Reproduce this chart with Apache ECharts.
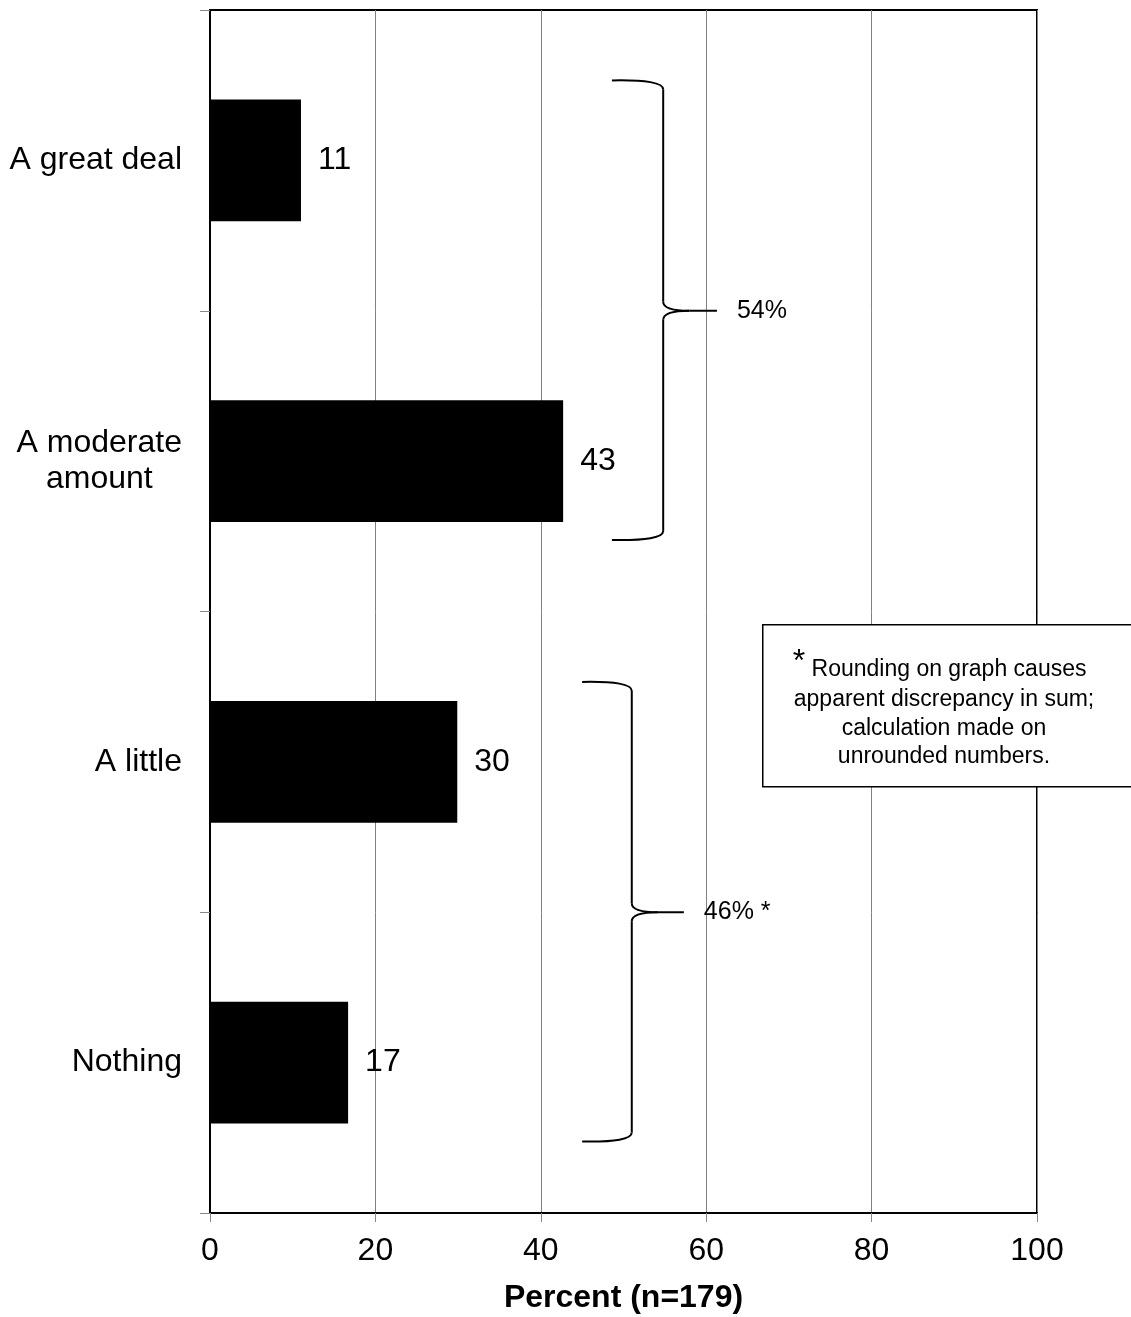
<!DOCTYPE html>
<html>
<head>
<meta charset="utf-8">
<script src="https://cdn.jsdelivr.net/npm/echarts@6/dist/echarts.min.js"></script>
<style>
html,body{margin:0;padding:0;background:#fff;}
#chart{width:1131px;height:1317px;}
</style>
</head>
<body>
<div id="chart"></div>
<script>
// ---- data ----
const categories = ['A great deal', 'A moderate\namount', 'A little', 'Nothing'];
const values = [11.0, 42.7, 29.9, 16.7];
const valueLabels = ['11', '43', '30', '17'];
const xTicks = [0, 20, 40, 60, 80, 100];
const axisTitle = 'Percent (n=179)';
// braces: [left end x, spine x, tip x, first category index, last category index]
const braceSpecs = [[48.6, 54.8, 61.3, 0, 1], [45.0, 51.0, 57.3, 2, 3]];
const braceLabels = ['54%', '46% *'];
const noteAsterisk = '*';
const noteLines = ['Rounding on graph causes', 'apparent discrepancy in sum;', 'calculation made on', 'unrounded numbers.'];

const FONT = 'Liberation Sans, Arial, Helvetica, sans-serif';
const G = {left: 210, top: 10, width: 827, height: 1203};

const chart = echarts.init(document.getElementById('chart'), null, {renderer: 'canvas'});

const option = {
  animation: false,
  backgroundColor: '#fff',
  textStyle: {fontFamily: FONT},
  grid: {left: G.left, top: G.top, width: G.width, height: G.height, show: true, borderColor: '#000', borderWidth: 2, backgroundColor: 'transparent', containLabel: false, outerBoundsMode: 'none'},
  xAxis: {
    type: 'value', min: xTicks[0], max: xTicks[xTicks.length - 1], interval: 20,
    axisLine: {show: true, lineStyle: {color: '#000', width: 2}},
    axisTick: {show: true, length: 9, lineStyle: {color: '#888', width: 1}},
    splitLine: {show: true, lineStyle: {color: '#808080', width: 1}},
    axisLabel: {fontSize: 32, color: '#000', margin: 22, fontFamily: FONT},
    name: axisTitle, nameLocation: 'middle', nameGap: 69,
    nameTextStyle: {fontSize: 32, fontWeight: 'bold', color: '#000', fontFamily: FONT}
  },
  yAxis: {
    type: 'category', data: categories, inverse: true,
    axisLine: {show: true, lineStyle: {color: '#000', width: 2}},
    axisTick: {show: true, length: 10, lineStyle: {color: '#888', width: 1}},
    splitLine: {show: false},
    axisLabel: {
      fontSize: 32, color: '#000', margin: 28, fontFamily: FONT,
      formatter: v => v.split('\n').map(l => '{c|' + l + '}').join('\n'),
      rich: {c: {fontSize: 32, color: '#000', align: 'center', lineHeight: 36, fontFamily: FONT}}
    }
  },
  series: [
    {
      type: 'bar', data: values, barWidth: '40.5%',
      itemStyle: {color: '#000'},
      label: {show: true, position: 'right', distance: 17, fontSize: 32, color: '#000', fontFamily: FONT,
        formatter: p => valueLabels[p.dataIndex]}
    },
    {
      type: 'custom', silent: true, z: 5,
      data: braceSpecs,
      encode: {x: [0, 1, 2], y: [3, 4]},
      renderItem: function (params, api) {
        const x0 = api.coord([api.value(0), api.value(3)])[0];
        const xv = api.coord([api.value(1), api.value(3)])[0];
        const xt = api.coord([api.value(2), api.value(3)])[0];
        const band = api.size([0, 1])[1];
        const cA = api.coord([api.value(1), api.value(3)])[1];
        const cB = api.coord([api.value(1), api.value(4)])[1];
        const yT = cA - 0.266 * band;
        const yB = cB + 0.262 * band;
        const yM = (cA + cB) / 2;
        const st = {stroke: '#000', lineWidth: 2, fill: null};
        const r = 9, k = 26;
        return {
          type: 'group',
          children: [
            {type: 'bezierCurve', shape: {x1: x0, y1: yT, cpx1: xv, cpy1: yT - 1, x2: xv, y2: yT + r}, style: st},
            {type: 'line', shape: {x1: xv, y1: yT + r, x2: xv, y2: yM - r}, style: st},
            {type: 'bezierCurve', shape: {x1: xv, y1: yM - r, cpx1: xv, cpy1: yM, x2: xv + k, y2: yM}, style: st},
            {type: 'line', shape: {x1: xv + k, y1: yM, x2: xt, y2: yM}, style: st},
            {type: 'bezierCurve', shape: {x1: xv + k, y1: yM, cpx1: xv, cpy1: yM, x2: xv, y2: yM + r}, style: st},
            {type: 'line', shape: {x1: xv, y1: yM + r, x2: xv, y2: yB - r}, style: st},
            {type: 'bezierCurve', shape: {x1: xv, y1: yB - r, cpx1: xv, cpy1: yB + 1, x2: x0, y2: yB}, style: st},
            {type: 'text', x: xt + 20, y: yM, style: {text: braceLabels[params.dataIndex], fill: '#000', fontSize: 25, fontFamily: FONT, align: 'left', verticalAlign: 'middle'}}
          ]
        };
      }
    }
  ],
  graphic: [
    {type: 'rect', left: 762, top: 624, z: 10, shape: {width: 380, height: 162}, style: {fill: '#fff', stroke: '#000', lineWidth: 1.5}},
    {type: 'text', x: 799, y: 662, z: 11, style: {text: noteAsterisk, fill: '#000', fontSize: 32, fontFamily: FONT, align: 'center', verticalAlign: 'middle'}},
    {type: 'text', x: 949, y: 670, z: 11, style: {text: noteLines[0], fill: '#000', fontSize: 23, fontFamily: FONT, align: 'center', verticalAlign: 'middle'}},
    {type: 'text', x: 944, y: 700, z: 11, style: {text: noteLines[1], fill: '#000', fontSize: 23, fontFamily: FONT, align: 'center', verticalAlign: 'middle'}},
    {type: 'text', x: 944, y: 729, z: 11, style: {text: noteLines[2], fill: '#000', fontSize: 23, fontFamily: FONT, align: 'center', verticalAlign: 'middle'}},
    {type: 'text', x: 944, y: 757, z: 11, style: {text: noteLines[3], fill: '#000', fontSize: 23, fontFamily: FONT, align: 'center', verticalAlign: 'middle'}}
  ]
};
chart.setOption(option);
</script>
</body>
</html>
